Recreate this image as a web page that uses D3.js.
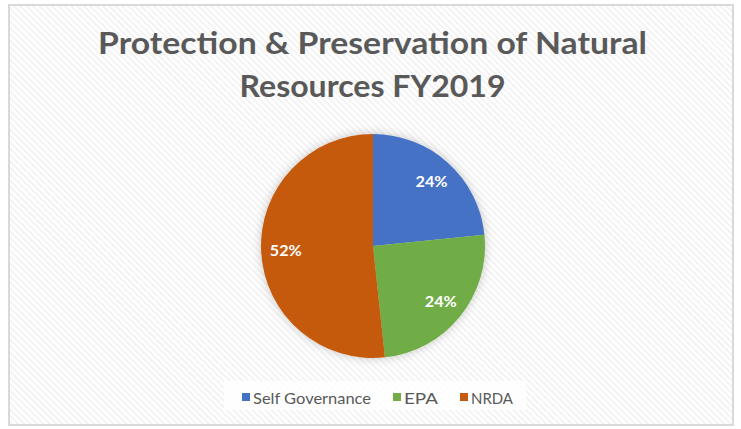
<!DOCTYPE html>
<html>
<head>
<meta charset="utf-8">
<script src="https://cdn.jsdelivr.net/npm/d3@7"></script>
<style>
  html, body { margin: 0; padding: 0; background: #ffffff; }
  svg { display: block; }
</style>
</head>
<body>
<svg id="chart" width="741" height="429"></svg>
<script>
const categories = ["Self Governance", "EPA", "NRDA"];
const values = [23.4, 24.9, 51.7];
const labels = ["24%", "24%", "52%"];
const colors = ["#4472C4", "#70AD47", "#C55A11"];
const titleLines = ["Protection & Preservation of Natural", "Resources FY2019"];

const svg = d3.select("#chart");
const W = 741, H = 429;
const defs = svg.append("defs");

// diagonal hatch background
const pat = defs.append("pattern")
  .attr("id", "hatch").attr("patternUnits", "userSpaceOnUse")
  .attr("width", 4.5).attr("height", 4.5)
  .attr("patternTransform", "rotate(-45)");
pat.append("rect").attr("width", 4.5).attr("height", 4.5).attr("fill", "#ffffff");
pat.append("rect").attr("width", 2).attr("height", 4.5).attr("fill", "#f3f3f3");

const shadow = defs.append("filter").attr("id", "shadow")
  .attr("x", "-20%").attr("y", "-20%").attr("width", "140%").attr("height", "140%");
shadow.append("feDropShadow").attr("dx", 0).attr("dy", 0)
  .attr("stdDeviation", 5).attr("flood-color", "#000").attr("flood-opacity", 0.22);

svg.append("rect").attr("width", W).attr("height", H).attr("fill", "#ffffff");
svg.append("rect").attr("x", 9).attr("y", 5).attr("width", 724).attr("height", 420)
  .attr("fill", "url(#hatch)").attr("stroke", "#d9d9d9").attr("stroke-width", 2);

// title
const titleWidths = [549, 266];
const titleY = [54, 97];
titleLines.forEach((t, i) => {
  svg.append("text")
    .attr("x", 372.5).attr("y", titleY[i])
    .attr("text-anchor", "middle")
    .attr("font-family", "Lato, 'Open Sans', sans-serif")
    .attr("font-weight", "bold")
    .attr("font-size", 31)
    .attr("fill", "#595959")
    .attr("textLength", titleWidths[i])
    .attr("lengthAdjust", "spacingAndGlyphs")
    .text(t);
});

// pie
const cx = 373, cy = 246, r = 112;
const pie = d3.pie().sort(null).value(d => d)(values);
const arc = d3.arc().innerRadius(0).outerRadius(r);
const labelArc = d3.arc().innerRadius(r * 0.78).outerRadius(r * 0.78);

const g = svg.append("g").attr("transform", `translate(${cx},${cy})`);
g.append("g").attr("filter", "url(#shadow)")
  .selectAll("path").data(pie).join("path")
  .attr("d", arc)
  .attr("fill", (d, i) => colors[i]);

g.selectAll("text.lbl").data(pie).join("text")
  .attr("class", "lbl")
  .attr("transform", d => `translate(${labelArc.centroid(d)})`)
  .attr("text-anchor", "middle")
  .attr("dy", "0.35em")
  .attr("font-family", "Lato, 'Open Sans', sans-serif")
  .attr("font-weight", "bold")
  .attr("font-size", 16)
  .attr("fill", "#ffffff")
  .attr("textLength", 32)
  .attr("lengthAdjust", "spacingAndGlyphs")
  .text((d, i) => labels[i]);

// legend
svg.append("rect").attr("x", 224).attr("y", 381).attr("width", 302).attr("height", 29)
  .attr("fill", "#ffffff").attr("opacity", 0.8);
const legendX = [242, 393, 460];
const legendTextW = [118, 34, 42];
const leg = svg.append("g");
categories.forEach((c, i) => {
  leg.append("rect").attr("x", legendX[i]).attr("y", 393).attr("width", 8).attr("height", 8)
    .attr("fill", colors[i]);
  leg.append("text").attr("x", legendX[i] + 11).attr("y", 404)
    .attr("font-family", "Lato, 'Open Sans', sans-serif")
    .attr("font-size", 16)
    .attr("fill", "#595959")
    .attr("textLength", legendTextW[i])
    .attr("lengthAdjust", "spacingAndGlyphs")
    .text(c);
});
</script>
</body>
</html>
